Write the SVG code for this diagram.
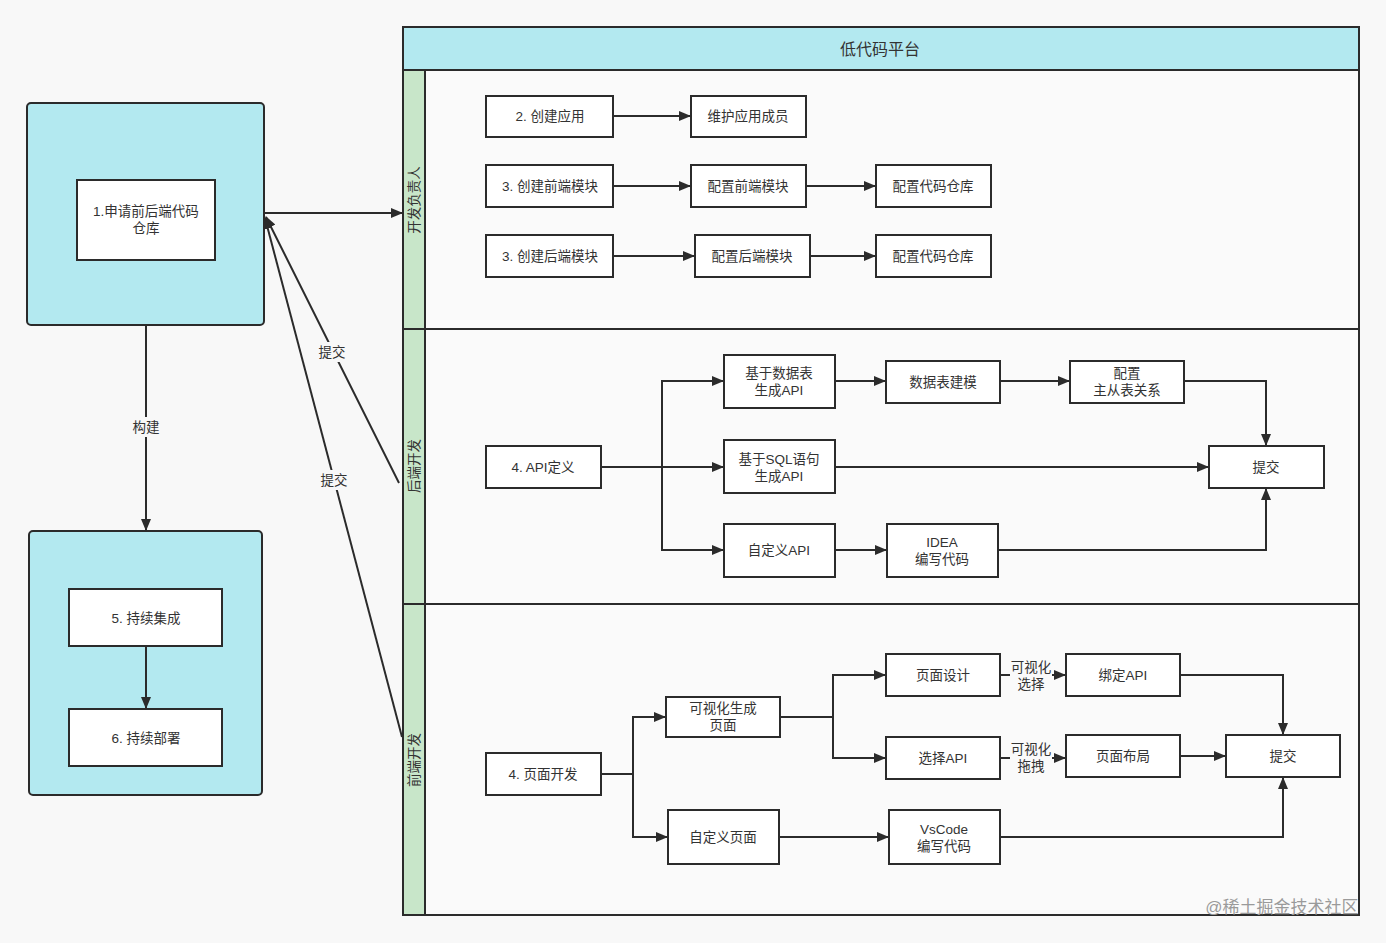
<svg xmlns="http://www.w3.org/2000/svg" width="1386" height="943" viewBox="0 0 1386 943">
<defs>
<marker id="ah" markerWidth="12" markerHeight="10" refX="11" refY="5" orient="auto" markerUnits="userSpaceOnUse">
<path d="M0,0 L12,5 L0,10 Z" fill="#2b2b2b"/>
</marker>
<style>
text{font-family:"Liberation Sans","Noto Sans CJK SC",sans-serif;font-size:13.5px;fill:#333;text-anchor:middle;dominant-baseline:central}
.n{fill:#fff;stroke:#2b2b2b;stroke-width:2}
.c{fill:none;stroke:#2b2b2b;stroke-width:2}
.a{fill:none;stroke:#2b2b2b;stroke-width:2;marker-end:url(#ah)}
.grp{fill:#b3e9f0;stroke:#2b2b2b;stroke-width:2}
.lane{fill:#c8e6c9;stroke:#2b2b2b;stroke-width:2}
</style>
</defs>
<rect width="1386" height="943" fill="#f8f8f8"/>

<g id="platform">
<rect x="403" y="27" width="956" height="888" fill="#fafafa" stroke="#2b2b2b" stroke-width="2"/>
<rect x="403" y="27" width="956" height="43" class="grp"/>
<text x="880" y="49" style="font-size:16px">低代码平台</text>
</g>
<g id="lane-dev">
<rect x="403" y="70" width="956" height="259" fill="none" stroke="#2b2b2b" stroke-width="2"/>
<rect x="403" y="70" width="22" height="259" class="lane"/>
<text x="414" y="200" transform="rotate(-90 414 200)">开发负责人</text>
</g>
<g id="lane-backend">
<rect x="403" y="329" width="956" height="275" fill="none" stroke="#2b2b2b" stroke-width="2"/>
<rect x="403" y="329" width="22" height="275" class="lane"/>
<text x="414" y="466" transform="rotate(-90 414 466)">后端开发</text>
</g>
<g id="lane-frontend">
<rect x="403" y="604" width="956" height="311" fill="none" stroke="#2b2b2b" stroke-width="2"/>
<rect x="403" y="604" width="22" height="311" class="lane"/>
<text x="414" y="760" transform="rotate(-90 414 760)">前端开发</text>
</g>

<g id="group-repo"><rect x="27" y="103" width="237" height="222" rx="4" class="grp"/></g>
<g id="group-ci"><rect x="29" y="531" width="233" height="264" rx="4" class="grp"/></g>

<g id="connectors">
<path class="a" d="M146,325 V530"/>
<rect x="128" y="417" width="36" height="20" fill="#f8f8f8"/>
<text x="146" y="427">构建</text>
<path class="a" d="M264,213 H402"/>
<path class="a" d="M399,483 L266,217"/>
<path class="a" d="M402,737 L265,218"/>
<rect x="314" y="342" width="36" height="20" fill="#f8f8f8"/>
<text x="332" y="352">提交</text>
<rect x="316" y="470" width="36" height="20" fill="#f8f8f8"/>
<text x="334" y="480">提交</text>
<path class="a" d="M146,646 V708"/>

<path class="a" d="M613,116 H690"/>
<path class="a" d="M613,186 H690"/>
<path class="a" d="M806,186 H875"/>
<path class="a" d="M613,256 H694"/>
<path class="a" d="M810,256 H875"/>

<path class="a" d="M601,467 H723"/>
<path class="a" d="M662,467 V381 H723"/>
<path class="a" d="M662,467 V550 H723"/>
<path class="a" d="M835,381 H885"/>
<path class="a" d="M1000,381 H1069"/>
<path class="a" d="M1184,381 H1266 V445"/>
<path class="a" d="M835,467 H1208"/>
<path class="a" d="M835,550 H886"/>
<path class="a" d="M998,550 H1266 V489"/>

<path class="c" d="M601,774 H633"/>
<path class="a" d="M633,774 V717 H665"/>
<path class="a" d="M633,774 V837 H667"/>
<path class="c" d="M780,717 H833"/>
<path class="a" d="M833,717 V675 H885"/>
<path class="a" d="M833,717 V758 H885"/>
<path class="a" d="M1000,675 H1065"/>
<path class="a" d="M1000,758 H1065"/>
<rect x="1010" y="658" width="42" height="36" fill="#fafafa"/>
<text x="1031" y="667">可视化<tspan x="1031" dy="17">选择</tspan></text>
<rect x="1010" y="740" width="42" height="36" fill="#fafafa"/>
<text x="1031" y="749">可视化<tspan x="1031" dy="17">拖拽</tspan></text>
<path class="a" d="M1180,675 H1283 V734"/>
<path class="a" d="M1180,756 H1225"/>
<path class="a" d="M779,837 H888"/>
<path class="a" d="M1000,837 H1283 V778"/>
</g>

<g id="n1"><rect x="77" y="180" width="138" height="80" class="n"/><text x="146" y="211">1.申请前后端代码<tspan x="146" dy="17">仓库</tspan></text></g>
<g id="n5"><rect x="69" y="589" width="153" height="57" class="n"/><text x="146" y="618">5. 持续集成</text></g>
<g id="n6"><rect x="69" y="709" width="153" height="57" class="n"/><text x="146" y="738">6. 持续部署</text></g>

<g id="n2"><rect x="486" y="96" width="127" height="41" class="n"/><text x="550" y="116">2. 创建应用</text></g>
<g id="n2b"><rect x="691" y="96" width="115" height="41" class="n"/><text x="748" y="116">维护应用成员</text></g>
<g id="n3f"><rect x="486" y="165" width="127" height="42" class="n"/><text x="550" y="186">3. 创建前端模块</text></g>
<g id="n3f2"><rect x="691" y="165" width="115" height="42" class="n"/><text x="748" y="186">配置前端模块</text></g>
<g id="n3f3"><rect x="876" y="165" width="115" height="42" class="n"/><text x="933" y="186">配置代码仓库</text></g>
<g id="n3b"><rect x="486" y="235" width="127" height="42" class="n"/><text x="550" y="256">3. 创建后端模块</text></g>
<g id="n3b2"><rect x="695" y="235" width="115" height="42" class="n"/><text x="752" y="256">配置后端模块</text></g>
<g id="n3b3"><rect x="876" y="235" width="115" height="42" class="n"/><text x="933" y="256">配置代码仓库</text></g>

<g id="n4a"><rect x="486" y="446" width="115" height="42" class="n"/><text x="543" y="467">4. API定义</text></g>
<g id="b1"><rect x="724" y="355" width="111" height="53" class="n"/><text x="779" y="373">基于数据表<tspan x="779" dy="17">生成API</tspan></text></g>
<g id="b2"><rect x="886" y="361" width="114" height="42" class="n"/><text x="943" y="382">数据表建模</text></g>
<g id="b3"><rect x="1070" y="361" width="114" height="42" class="n"/><text x="1127" y="373">配置<tspan x="1127" dy="17">主从表关系</tspan></text></g>
<g id="b4"><rect x="724" y="440" width="111" height="53" class="n"/><text x="779" y="459">基于SQL语句<tspan x="779" dy="17">生成API</tspan></text></g>
<g id="b5"><rect x="1209" y="446" width="115" height="42" class="n"/><text x="1266" y="467">提交</text></g>
<g id="b6"><rect x="724" y="524" width="111" height="53" class="n"/><text x="779" y="550">自定义API</text></g>
<g id="b7"><rect x="887" y="524" width="111" height="53" class="n"/><text x="942" y="542">IDEA<tspan x="942" dy="17">编写代码</tspan></text></g>

<g id="n4b"><rect x="486" y="753" width="115" height="42" class="n"/><text x="543" y="774">4. 页面开发</text></g>
<g id="f1"><rect x="666" y="697" width="114" height="40" class="n"/><text x="723" y="708">可视化生成<tspan x="723" dy="17">页面</tspan></text></g>
<g id="f2"><rect x="668" y="810" width="111" height="54" class="n"/><text x="723" y="837">自定义页面</text></g>
<g id="f3"><rect x="886" y="654" width="114" height="42" class="n"/><text x="943" y="675">页面设计</text></g>
<g id="f4"><rect x="886" y="737" width="114" height="42" class="n"/><text x="943" y="758">选择API</text></g>
<g id="f5"><rect x="1066" y="654" width="114" height="42" class="n"/><text x="1123" y="675">绑定API</text></g>
<g id="f6"><rect x="1066" y="735" width="114" height="42" class="n"/><text x="1123" y="756">页面布局</text></g>
<g id="f7"><rect x="1226" y="735" width="114" height="42" class="n"/><text x="1283" y="756">提交</text></g>
<g id="f8"><rect x="889" y="810" width="111" height="54" class="n"/><text x="944" y="829">VsCode<tspan x="944" dy="17">编写代码</tspan></text></g>

<text x="1282" y="907" style="font-size:17px;fill:#9a9a9a">@稀土掘金技术社区</text>
</svg>
